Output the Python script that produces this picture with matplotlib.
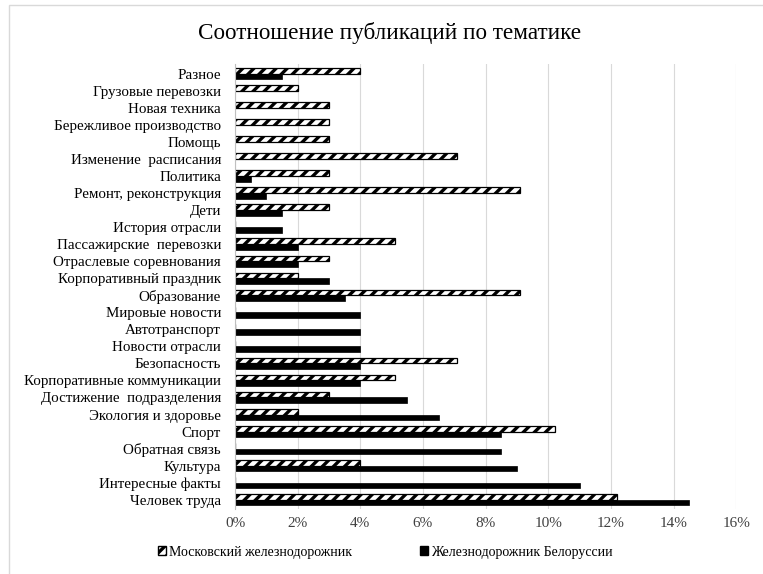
import matplotlib.pyplot as plt
import matplotlib.patches as mpatches
from matplotlib.ticker import FuncFormatter
import numpy as np

# categories from top to bottom
categories = [
    "Разное", "Грузовые перевозки", "Новая техника", "Бережливое производство",
    "Помощь", "Изменение  расписания", "Политика", "Ремонт, реконструкция",
    "Дети", "История отрасли", "Пассажирские  перевозки", "Отраслевые соревнования",
    "Корпоративный праздник", "Образование", "Мировые новости", "Автотранспорт",
    "Новости отрасли", "Безопасность", "Корпоративные коммуникации",
    "Достижение  подразделения", "Экология и здоровье", "Спорт", "Обратная связь",
    "Культура", "Интересные факты", "Человек труда",
]
# percent values
moscow = [4.0, 2.0, 3.0, 3.0, 3.0, 7.1, 3.0, 9.1, 3.0, 0.0, 5.1, 3.0, 2.0, 9.1,
          0.0, 0.0, 0.0, 7.1, 5.1, 3.0, 2.0, 10.2, 0.0, 4.0, 0.0, 12.2]
belarus = [1.5, 0.0, 0.0, 0.0, 0.0, 0.0, 0.5, 1.0, 1.5, 1.5, 2.0, 2.0, 3.0, 3.5,
           4.0, 4.0, 4.0, 4.0, 4.0, 5.5, 6.5, 8.5, 8.5, 9.0, 11.0, 14.5]
series_names = ["Московский железнодорожник", "Железнодорожник Белоруссии"]

plt.rcParams['font.family'] = ['Liberation Serif', 'DejaVu Serif']
plt.rcParams['hatch.linewidth'] = 2.4

fig = plt.figure(figsize=(7.63, 5.74), dpi=100)
ax = fig.add_axes([0.308, 0.113, 0.657, 0.775])

n = len(categories)
y = np.arange(n)[::-1]
h = 0.33

ax.barh(y + h / 2, moscow, height=h, color='white', edgecolor='black',
        hatch='///', linewidth=0.9)
ax.barh(y - h / 2, belarus, height=h, color='black', edgecolor='black', linewidth=0.5)

ax.set_xlim(0, 16)
ax.set_ylim(-0.55, n - 0.45)
ax.set_xticks(np.arange(0, 17, 2))
ax.xaxis.set_major_formatter(FuncFormatter(lambda v, p: "{:.0f}%".format(v)))
ax.set_yticks(y)
ax.set_yticklabels(categories)
ax.tick_params(axis='both', length=0, labelsize=11, colors='#404040')
ax.tick_params(axis='y', labelsize=10.8, pad=10, colors='black')
ax.tick_params(axis='x', pad=6)
ax.grid(axis='x', color='#d9d9d9', linewidth=0.8)
ax.set_axisbelow(True)
for s in ['top', 'right', 'bottom']:
    ax.spines[s].set_visible(False)
ax.spines['left'].set_color('#bfbfbf')

fig.text(0.51, 0.943, "Соотношение публикаций по тематике", ha='center', va='center',
         fontsize=16.7)

handles = [
    mpatches.Patch(facecolor='white', edgecolor='black', hatch='///', label=series_names[0]),
    mpatches.Patch(facecolor='black', edgecolor='black', label=series_names[1]),
]
fig.legend(handles=handles, loc='center', bbox_to_anchor=(0.505, 0.038), ncol=2,
           frameon=False, fontsize=10, handlelength=0.6, handleheight=0.6,
           handletextpad=0.2, columnspacing=4.9)

# chart frame
fig.patches.append(mpatches.Rectangle((9 / 763, -0.05), 1.2, 1 - 5 / 574 + 0.05,
                                      transform=fig.transFigure, fill=False,
                                      edgecolor='#d9d9d9', linewidth=1))

fig.savefig("out.png", dpi=100)
